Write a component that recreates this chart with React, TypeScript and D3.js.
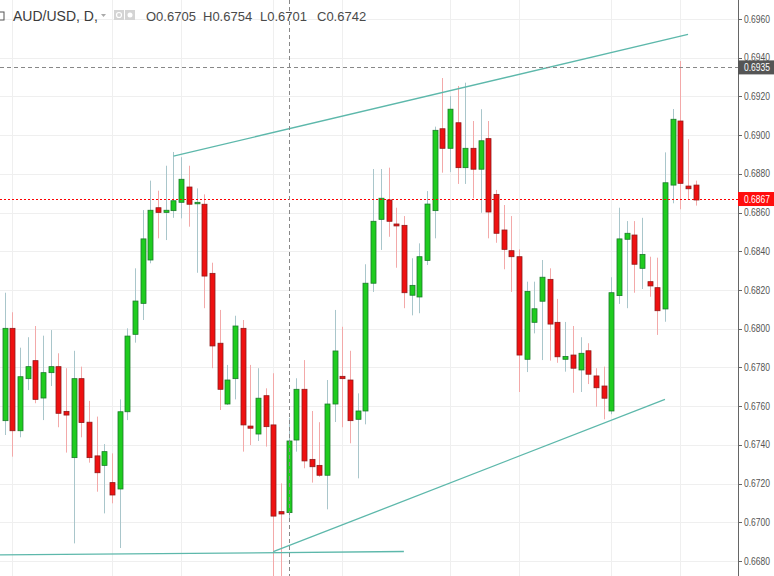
import React from "react";
import * as d3 from "d3";

const opens = [0.67525,0.68002,0.67473,0.67742,0.67835,0.67642,0.67773,0.67804,0.67573,0.67334,0.67742,0.67517,0.67343,0.67294,0.67205,0.67172,0.67571,0.67971,0.68131,0.68355,0.68625,0.68601,0.68610,0.68653,0.68732,0.68651,0.68643,0.68286,0.67925,0.67611,0.67742,0.68002,0.67497,0.67456,0.67654,0.67503,0.67055,0.67050,0.67425,0.67687,0.67325,0.67294,0.67243,0.67611,0.67754,0.67735,0.67532,0.67575,0.68235,0.68565,0.68665,0.68541,0.68534,0.68173,0.68164,0.68353,0.68610,0.69033,0.68932,0.69064,0.68832,0.68932,0.68824,0.68982,0.68694,0.68510,0.68403,0.68372,0.67842,0.68033,0.68142,0.68255,0.68033,0.67842,0.67864,0.67787,0.67886,0.67756,0.67704,0.67575,0.68171,0.68462,0.68484,0.68312,0.68243,0.68212,0.68102,0.68742,0.69073,0.68737,0.68742];
const highs = [0.68186,0.68085,0.67902,0.67956,0.68014,0.67964,0.67993,0.67873,0.67796,0.67886,0.67804,0.67627,0.67546,0.67404,0.67356,0.67635,0.68002,0.68312,0.68613,0.68765,0.68713,0.68842,0.68913,0.68886,0.68842,0.68725,0.68694,0.68341,0.68097,0.67813,0.68067,0.68045,0.67813,0.67796,0.67692,0.67770,0.67201,0.67540,0.67744,0.67838,0.67575,0.67517,0.67735,0.68097,0.68010,0.67886,0.67666,0.68333,0.68825,0.68825,0.68832,0.68625,0.68582,0.68364,0.68441,0.68711,0.69044,0.69295,0.69202,0.69254,0.69271,0.69073,0.69134,0.69073,0.68717,0.68639,0.68582,0.68410,0.68243,0.68243,0.68355,0.68312,0.68154,0.68035,0.68014,0.67956,0.67925,0.67796,0.67804,0.68266,0.68625,0.68556,0.68556,0.68573,0.68372,0.68367,0.68911,0.69135,0.69383,0.68979,0.68765];
const lows = [0.67451,0.67339,0.67439,0.67683,0.67615,0.67528,0.67704,0.67491,0.67360,0.66891,0.67439,0.67308,0.67158,0.67046,0.67098,0.66867,0.67528,0.67928,0.68045,0.68338,0.68467,0.68458,0.68573,0.68570,0.68527,0.68289,0.68106,0.67796,0.67580,0.67606,0.67635,0.67365,0.67399,0.67420,0.67391,0.66700,0.66710,0.67010,0.67365,0.67279,0.67205,0.67235,0.67067,0.67518,0.67491,0.67408,0.67227,0.67506,0.68190,0.68407,0.68475,0.68315,0.68106,0.68069,0.68080,0.68329,0.68467,0.68806,0.68809,0.68748,0.68748,0.68674,0.68599,0.68467,0.68444,0.68307,0.68190,0.67673,0.67776,0.67976,0.67838,0.67835,0.67824,0.67778,0.67669,0.67673,0.67714,0.67597,0.67532,0.67558,0.68128,0.68106,0.68186,0.68205,0.68165,0.67968,0.68036,0.68648,0.68617,0.68665,0.68636];
const closes = [0.68002,0.67473,0.67752,0.67804,0.67635,0.67773,0.67804,0.67563,0.67554,0.67742,0.67515,0.67334,0.67256,0.67365,0.67141,0.67571,0.67962,0.68143,0.68464,0.68612,0.68601,0.68612,0.68661,0.68772,0.68643,0.68653,0.68272,0.67911,0.67687,0.67735,0.68014,0.67503,0.67486,0.67641,0.67494,0.67032,0.67043,0.67420,0.67687,0.67317,0.67287,0.67243,0.67611,0.67885,0.67742,0.67525,0.67575,0.68235,0.68555,0.68674,0.68555,0.68531,0.68186,0.68224,0.68372,0.68644,0.69025,0.68932,0.69134,0.68832,0.68932,0.68824,0.68971,0.68603,0.68493,0.68410,0.68372,0.67864,0.68193,0.68103,0.68266,0.68024,0.67855,0.67857,0.67796,0.67873,0.67765,0.67695,0.67641,0.68186,0.68464,0.68493,0.68333,0.68384,0.68221,0.68093,0.68754,0.69082,0.68751,0.68723,0.68665];

const yTicks = [0.6680,0.6700,0.6720,0.6740,0.6760,0.6780,0.6800,0.6820,0.6840,0.6860,0.6880,0.6900,0.6920,0.6940,0.6960];
const vGridIdx = [1,14,23,35,44,58,67,79,88];
const trendLines = [
  [{ i: 22, p: 0.68892 }, { i: 89, p: 0.69520 }],
  [{ i: 35, p: 0.66848 }, { i: 86, p: 0.67635 }],
  [{ i: -1, p: 0.66831 }, { i: 52, p: 0.66849 }],
];
const crossIdx = 37;
const crossPrice = 0.6935;
const lastPrice = 0.6867;
const title = "AUD/USD, D,";
const ohlcLabels = ["O0.6705", "H0.6754", "L0.6701", "C0.6742"];

const W = 774, H = 576, AXIS_X = 738;

export default function App() {
  const x = d3.scaleLinear().domain([0, 90]).range([4.5, 4.5 + 7.68 * 90]);
  const y = d3.scaleLinear().domain([0.668, 0.696]).range([561, 19]);
  const fmt = d3.format(".4f");
  const bodyW = 5;
  const line = d3.line<{ i: number; p: number }>().x(d => x(d.i)).y(d => y(d.p));
  const font = "'Liberation Sans', Arial, sans-serif";
  const axisText = (v: number, fill: string) => (
    <text x={744} y={y(v) + 3.5} fontSize={10} fill={fill} textLength={26} lengthAdjust="spacingAndGlyphs">{fmt(v)}</text>
  );

  return (
    <svg width={W} height={H} style={{ position: "absolute", left: 0, top: 0, background: "#fff" }} fontFamily={font}>
      <defs>
        <clipPath id="plot"><rect x={0} y={0} width={AXIS_X} height={H} /></clipPath>
      </defs>
      <g clipPath="url(#plot)">
        {yTicks.map(t => (
          <line key={"h" + t} x1={0} x2={AXIS_X} y1={Math.round(y(t)) + 0.5} y2={Math.round(y(t)) + 0.5} stroke="#efefef" />
        ))}
        {vGridIdx.map(i => (
          <line key={"v" + i} x1={Math.round(x(i)) + 0.5} x2={Math.round(x(i)) + 0.5} y1={0} y2={H} stroke="#efefef" />
        ))}
        {opens.map((o, i) => {
          const c = closes[i];
          const up = c >= o;
          const cx = Math.round(x(i)) + 0.5;
          const top = y(Math.max(o, c));
          const bot = y(Math.min(o, c));
          return (
            <g key={i}>
              <line x1={cx} x2={cx} y1={y(highs[i])} y2={y(lows[i])} stroke={up ? "#a9c6cb" : "#f3a9a9"} strokeWidth={1} />
              <rect x={cx - bodyW / 2} y={top} width={bodyW} height={Math.max(1.5, bot - top)}
                fill={up ? "#1fcc1f" : "#ee1111"} stroke={up ? "#1b7a2a" : "#8e1a1a"} strokeWidth={0.8} />
            </g>
          );
        })}
        {trendLines.map((tl, k) => (
          <path key={"t" + k} d={line(tl) || ""} stroke="#5db8ab" strokeWidth={1.3} fill="none" />
        ))}
        <line x1={0} x2={AXIS_X} y1={Math.round(y(lastPrice)) + 0.5} y2={Math.round(y(lastPrice)) + 0.5} stroke="#ff0000" strokeDasharray="2 2" shapeRendering="crispEdges" />
        <line x1={0} x2={AXIS_X} y1={Math.round(y(crossPrice)) + 0.5} y2={Math.round(y(crossPrice)) + 0.5} stroke="#888" strokeDasharray="4 3" />
        <line x1={Math.round(x(crossIdx)) + 0.5} x2={Math.round(x(crossIdx)) + 0.5} y1={0} y2={H} stroke="#888" strokeDasharray="4 3" />
      </g>
      <line x1={AXIS_X + 0.5} x2={AXIS_X + 0.5} y1={0} y2={H} stroke="#666" />
      {yTicks.map(t => (
        <g key={"l" + t}>
          <line x1={AXIS_X} x2={AXIS_X + 4} y1={Math.round(y(t)) + 0.5} y2={Math.round(y(t)) + 0.5} stroke="#666" />
          {axisText(t, "#555")}
        </g>
      ))}
      <rect x={AXIS_X} y={y(crossPrice) - 7} width={W - AXIS_X} height={14} fill="#555" />
      {axisText(crossPrice, "#fff")}
      <rect x={AXIS_X} y={y(lastPrice) - 7} width={W - AXIS_X} height={14} fill="#ff0d0d" />
      {axisText(lastPrice, "#fff")}
      <g>
        <rect x={-4} y={12} width={8} height={8} fill="#fff" stroke="#555" strokeWidth={1} />
        <text x={13} y={21} fontSize={14} fill="#3a3a3a">{title}</text>
        <path d="M101,14 L106,14 L103.5,17 Z" fill="#aaa" />
        <rect x={114} y={10} width={10} height={10} fill="#d4d4d4" />
        <circle cx={119} cy={15} r={2.5} fill="none" stroke="#fff" strokeWidth={1.2} />
        <rect x={125} y={10} width={10} height={10} fill="#d4d4d4" />
        <circle cx={130} cy={15} r={2.5} fill="#fff" />
        {ohlcLabels.map((s, k) => (
          <text key={s} x={146 + k * 57} y={21} fontSize={13} fill="#4a4a4a">{s}</text>
        ))}
      </g>
    </svg>
  );
}
